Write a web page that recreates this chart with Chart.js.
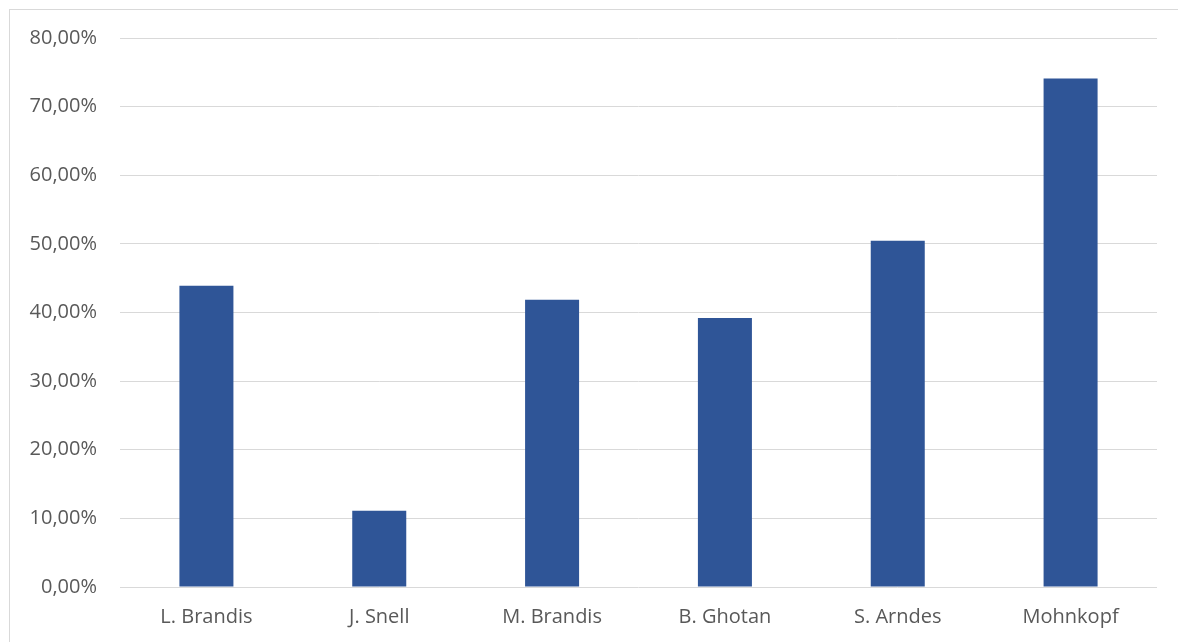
<!DOCTYPE html>
<html>
<head>
<meta charset="utf-8">
<script src="https://cdn.jsdelivr.net/npm/chart.js@4"></script>
<style>
  html, body { margin: 0; padding: 0; background: #fff; }
  #frame {
    position: absolute; left: 9px; top: 9px; width: 1200px; height: 700px;
    border-left: 1px solid #d9d9d9; border-top: 1px solid #d9d9d9;
  }
  #wrap { position: absolute; left: 0; top: 0; width: 1178px; height: 642px; }
</style>
</head>
<body>
<div id="frame"></div>
<div id="wrap"><canvas id="barChart"></canvas></div>
<script>
// Category names and their shares (percent)
var names = ['L. Brandis', 'J. Snell', 'M. Brandis', 'B. Ghotan', 'S. Arndes', 'Mohnkopf'];
var shares = [43.9, 11.1, 41.85, 39.2, 50.45, 74.1];

// Y axis range
var yMin = 0;
var yMax = 80;
var yStep = 10;

// Format a number like 10,00%
function formatPercent(v) {
  return v.toFixed(2).replace('.', ',') + '%';
}

var labelFont = { family: '"Open Sans", sans-serif', size: 20 };

var ctx = document.getElementById('barChart').getContext('2d');
window.myBarChart = new Chart(ctx, {
  type: 'bar',
  data: {
    labels: names,
    datasets: [{
      data: shares,
      backgroundColor: '#2f5597',
      borderWidth: 0,
      barPercentage: 0.3125,
      categoryPercentage: 1
    }]
  },
  options: {
    responsive: true,
    maintainAspectRatio: false,
    animation: false,
    layout: { padding: { left: 0, right: 21, top: 38, bottom: 0 } },
    plugins: {
      legend: { display: false },
      tooltip: { enabled: false }
    },
    scales: {
      x: {
        grid: { display: false, drawTicks: false },
        border: { display: false },
        ticks: {
          color: '#595959',
          font: labelFont,
          padding: 18,
          maxRotation: 0
        },
        afterFit: function(axis) { axis.height = 55; }
      },
      y: {
        min: yMin,
        max: yMax,
        grid: { color: '#d9d9d9', lineWidth: 1, drawTicks: false },
        border: { display: false },
        ticks: {
          stepSize: yStep,
          color: '#595959',
          font: labelFont,
          padding: 23,
          callback: function(v) { return formatPercent(v); }
        },
        afterFit: function(axis) { axis.width = 120; }
      }
    }
  }
});
</script>
</body>
</html>
